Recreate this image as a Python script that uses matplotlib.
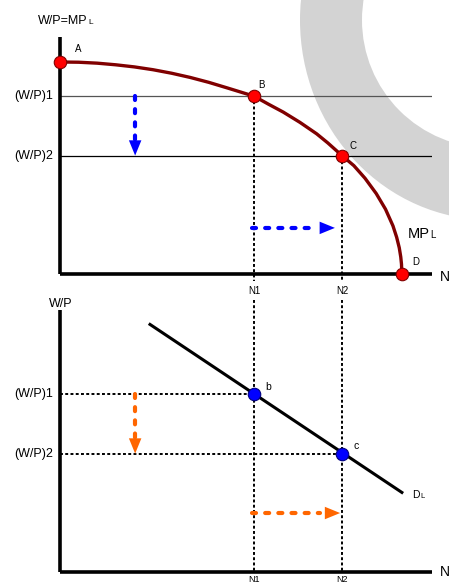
import matplotlib
matplotlib.use("Agg")
import matplotlib.pyplot as plt
from matplotlib.patches import Ellipse, Circle

plt.rcParams["font.family"] = ["Liberation Sans", "DejaVu Sans"]

mpl_n = [0.0, 0.5, 1.0, 1.5, 2.0, 2.5, 3.0, 3.5, 4.0, 4.5, 5.215, 5.6, 6.0, 6.45,
         6.9, 7.2, 7.58, 7.9, 8.2, 8.5, 8.75, 8.95, 9.05, 9.12, 9.16, 9.18, 9.19]
mpl_wp = [9.06, 9.05, 9.01, 8.94, 8.85, 8.73, 8.58, 8.40, 8.19, 7.95, 7.6, 7.26, 6.92, 6.48,
          5.99, 5.6, 5.06, 4.63, 4.09, 3.44, 2.77, 2.06, 1.57, 1.12, 0.73, 0.42, 0.0]
point_labels_top = ["A", "B", "C", "D"]
point_n_top = [0.0, 5.215, 7.58, 9.19]
point_wp_top = [9.06, 7.6, 5.06, 0.0]

dl_n = [2.42, 9.19]
dl_wp = [10.58, 3.40]
point_labels_bottom = ["b", "c"]

n_values = [5.215, 7.58]
n_labels = ["N1", "N2"]
wp_values = [7.6, 5.06]
wp_labels = ["(W/P)1", "(W/P)2"]

W, H = 449, 583
fig = plt.figure(figsize=(W / 100, H / 100), dpi=100)

# grey watermark arc in the background
bg = fig.add_axes([0, 0, 1, 1], zorder=0)
bg.set_xlim(0, W)
bg.set_ylim(H, 0)
bg.axis("off")
bg.add_patch(Ellipse((490, 20), 380, 400, color="#d3d3d3", lw=0))
bg.add_patch(Circle((490, 20), 128, color="white", lw=0))


def make_axes(top_px, bottom_px):
    ax = fig.add_axes([60 / W, 1 - bottom_px / H, 372 / W, (bottom_px - top_px) / H], zorder=1)
    ax.patch.set_alpha(0)
    ax.set_xlim(0, 10)
    ax.set_ylim(0, (bottom_px - top_px) / 23.4)
    for side in ["top", "right"]:
        ax.spines[side].set_visible(False)
    for side in ["left", "bottom"]:
        ax.spines[side].set_linewidth(2.6)
        ax.spines[side].set_capstyle("butt")
    ax.set_xticks([])
    ax.set_yticks([])
    return ax


dash = (0, (1.5, 1.2))
arrow_dash = (0, (0.96, 2.2))


def dashed_arrow(ax, x0, y0, x1, y1, hx, hy, color):
    ax.plot([x0, hx], [y0, hy], color=color, lw=3, linestyle=arrow_dash,
            dash_capstyle="round", zorder=3)
    ax.annotate("", xy=(x1, y1), xytext=(hx, hy),
                arrowprops=dict(arrowstyle="-|>,head_length=1.1,head_width=0.45",
                                color=color, lw=0, shrinkA=0, shrinkB=0,
                                mutation_scale=10), zorder=3)


# ---------- top panel: MPL ----------
ax1 = make_axes(37, 274)

for wp, col in zip(wp_values, ["#555555", "black"]):
    ax1.plot([0, 10], [wp, wp], color=col, lw=0.9, zorder=2)
for n, wp in zip(n_values, wp_values):
    ax1.plot([n, n], [wp, -0.3], color="black", lw=1.4, linestyle=dash, zorder=2, clip_on=False)

ax1.plot(mpl_n, mpl_wp, color="#800000", lw=2.4, zorder=4, solid_capstyle="round",
         solid_joinstyle="round")
ax1.plot(point_n_top, point_wp_top, "o", color="red", ms=9,
         markeredgecolor="#800000", markeredgewidth=0.8, zorder=5, clip_on=False)

label_offsets = [(0.40, 0.56), (0.12, 0.48), (0.19, 0.41), (0.27, 0.51)]
for lab, n, wp, (dx, dy) in zip(point_labels_top, point_n_top, point_wp_top, label_offsets):
    ax1.text(n + dx, wp + dy, lab, fontsize=7, ha="left", va="center")

for wp, lab in zip(wp_values, wp_labels):
    ax1.text(-0.19, wp, lab, fontsize=9, ha="right", va="center")
for n, lab in zip(n_values, n_labels):
    ax1.text(n, -0.73, lab, fontsize=7, ha="center", va="center",
             bbox=dict(facecolor="white", edgecolor="none", pad=0.5))

ax1.text(0.75, 10.68, "W/P=MP", fontsize=9, ha="right", va="baseline")
ax1.text(0.75, 10.68, "L", fontsize=6, ha="left", va="baseline")
ax1.text(9.95, 1.54, "MP", fontsize=10.5, ha="right", va="baseline")
ax1.text(9.95, 1.54, "L", fontsize=7, ha="left", va="baseline")
ax1.text(10.22, -0.13, "N", fontsize=10, ha="left", va="center")

dashed_arrow(ax1, 2.02, wp_values[0], 2.02, wp_values[1], 2.02, wp_values[1] + 0.65, "#0000ff")
dashed_arrow(ax1, n_values[0] - 0.05, 1.97, n_values[1] - 0.19, 1.97, n_values[1] - 0.73, 1.97, "#0000ff")

# ---------- bottom panel: DL ----------
ax2 = make_axes(300, 572)
ax2.spines["left"].set_bounds(0, (572 - 310) / 23.4)

for n, wp in zip(n_values, wp_values):
    ax2.plot([n, n], [ax2.get_ylim()[1], 0], color="black", lw=1.4, linestyle=dash, zorder=2)
    ax2.plot([0, n], [wp, wp], color="black", lw=1.4, linestyle=dash, zorder=2)

ax2.plot(dl_n, dl_wp, color="black", lw=2.2, zorder=4)
ax2.plot(n_values, wp_values, "o", color="#0000ff", ms=9,
         markeredgecolor="#000080", markeredgewidth=0.8, zorder=5)

for lab, n, wp in zip(point_labels_bottom, n_values, wp_values):
    ax2.text(n + 0.3, wp + 0.32, lab, fontsize=7.5, ha="left", va="center")

for wp, lab in zip(wp_values, wp_labels):
    ax2.text(-0.19, wp, lab, fontsize=9, ha="right", va="center")
for n, lab in zip(n_values, n_labels):
    ax2.text(n, -0.3, lab, fontsize=6.5, ha="center", va="center")

ax2.text(0.03, 11.32, "W/P", fontsize=9, ha="center", va="baseline")
ax2.text(9.68, 3.16, "D", fontsize=7.5, ha="right", va="baseline")
ax2.text(9.68, 3.16, "L", fontsize=5.5, ha="left", va="baseline")
ax2.text(10.22, 0.0, "N", fontsize=10, ha="left", va="center")

orange = "#ff6600"
dashed_arrow(ax2, 2.02, wp_values[0], 2.02, wp_values[1], 2.02, wp_values[1] + 0.65, orange)
dashed_arrow(ax2, n_values[0] - 0.05, 2.52, n_values[1] - 0.05, 2.52, n_values[1] - 0.59, 2.52, orange)

fig.savefig("out.png", dpi=100)
